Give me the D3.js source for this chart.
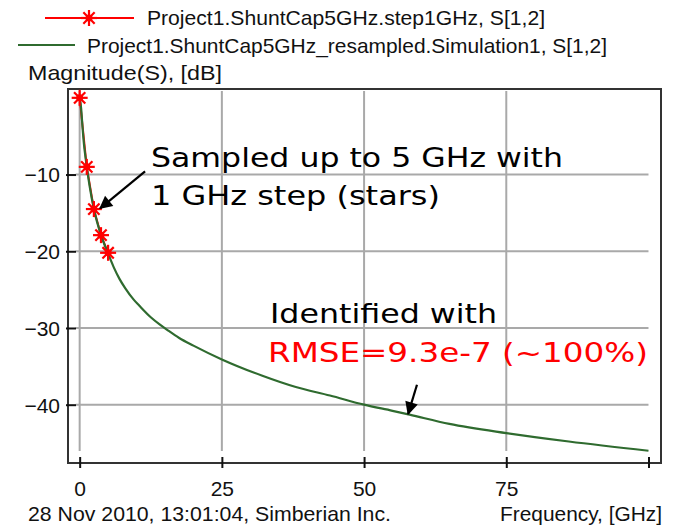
<!DOCTYPE html>
<html>
<head>
<meta charset="utf-8">
<script src="https://cdn.jsdelivr.net/npm/d3@7"></script>
<style>
  body { margin: 0; background: #fff; }
  svg { display: block; }
  .small { font-family: "Liberation Sans Narrow", "Liberation Sans", Arial, sans-serif; font-size: 21px; fill: #111; }
  .note { font-family: "DejaVu Sans", Verdana, sans-serif; font-size: 27px; }
</style>
</head>
<body>
<div id="chart"></div>
<script>
// sampled series (stars)
var stepFreq = [0, 1.25, 2.5, 3.75, 5];
var stepMag  = [0, -9.0, -14.5, -17.9, -20.2];

// resampled / identified series (green line)
var simFreq = [0, 0.25, 0.5, 0.75, 1, 1.25, 1.75, 2.5, 3.75, 5, 6, 7, 8, 9.5, 10.5, 12.5, 14, 15.5, 17.5, 20, 25, 32, 38, 44, 50, 55, 58, 65, 75, 86, 100];
var simMag  = [0, -1.3, -3.8, -6.0, -7.6, -9.0, -11.5, -14.5, -17.9, -20.3, -22.1, -23.6, -24.8, -26.3, -27.1, -28.6, -29.5, -30.3, -31.3, -32.3, -34.1, -36.2, -37.7, -38.8, -40.0, -40.8, -41.3, -42.5, -43.7, -44.8, -46.0];

var xTicks = [0, 25, 50, 75, 100];
var xTickLabels = ["0", "25", "50", "75", ""];
var yTicks = [-10, -20, -30, -40];

var legendNames = ["Project1.ShuntCap5GHz.step1GHz, S[1,2]",
                   "Project1.ShuntCap5GHz_resampled.Simulation1, S[1,2]"];

var width = 679, height = 525;
var box = {left: 68, right: 661, top: 89, bottom: 463};

var svg = d3.select("#chart")
  .append("svg")
    .attr("width", width)
    .attr("height", height);

var x = d3.scaleLinear()
  .domain([-2.05, 102.2])
  .range([box.left, box.right]);

var y = d3.scaleLinear()
  .domain([-47.6, 1.15])
  .range([box.bottom, box.top]);

var red = "#ff0000", green = "#2f6b2f", grid = "#a9a9a9";

// grid lines
svg.append("g")
  .selectAll("line")
  .data(xTicks.slice(0, 4))
  .enter().append("line")
    .attr("x1", function(d) { return x(d); })
    .attr("x2", function(d) { return x(d); })
    .attr("y1", box.top + 2)
    .attr("y2", box.bottom - 12)
    .attr("stroke", grid)
    .attr("stroke-width", 2);

svg.append("g")
  .selectAll("line")
  .data(yTicks)
  .enter().append("line")
    .attr("x1", x(0) - 4)
    .attr("x2", x(100))
    .attr("y1", function(d) { return y(d); })
    .attr("y2", function(d) { return y(d); })
    .attr("stroke", grid)
    .attr("stroke-width", 2);

// plot frame
svg.append("rect")
  .attr("x", box.left)
  .attr("y", box.top)
  .attr("width", box.right - box.left)
  .attr("height", box.bottom - box.top)
  .attr("fill", "none")
  .attr("stroke", "#333")
  .attr("stroke-width", 2);

// X axis (ticks cross the frame line)
var xAxis = svg.append("g")
  .attr("transform", "translate(0," + (box.bottom + 5) + ")")
  .call(d3.axisBottom(x).tickValues(xTicks).tickSize(11).tickSizeOuter(0)
        .tickFormat(function(d, i) { return xTickLabels[i]; }));
xAxis.select(".domain").remove();
xAxis.selectAll(".tick line").attr("y1", -11).attr("y2", 0).attr("stroke", "#111").attr("stroke-width", 2);
xAxis.selectAll(".tick text").attr("class", "small").attr("y", 13).attr("dy", "0.71em");

// Y axis
var yAxis = svg.append("g")
  .attr("transform", "translate(" + (box.left + 8) + ",0)")
  .call(d3.axisLeft(y).tickValues(yTicks).tickSize(10).tickSizeOuter(0));
yAxis.select(".domain").remove();
yAxis.selectAll(".tick line").attr("stroke", "#111").attr("stroke-width", 2);
yAxis.selectAll(".tick text").attr("class", "small").attr("x", -16).attr("dy", "0.35em");

// series
var simData = simFreq.map(function(f, i) { return {f: f, v: simMag[i]}; });
var stepData = stepFreq.map(function(f, i) { return {f: f, v: stepMag[i]}; });

var line = d3.line()
  .x(function(d) { return x(d.f); })
  .y(function(d) { return y(d.v); });

svg.append("path")
  .datum(stepData)
  .attr("d", line)
  .attr("fill", "none")
  .attr("stroke", red)
  .attr("stroke-width", 2);

svg.append("path")
  .datum(simData)
  .attr("d", line.curve(d3.curveMonotoneX))
  .attr("fill", "none")
  .attr("stroke", green)
  .attr("stroke-width", 2.2);

// asterisk marker
function star(g, cx, cy) {
  var s = g.append("g").attr("transform", "translate(" + cx + "," + cy + ")");
  [0, 45, 90, 135].forEach(function(a) {
    s.append("line")
      .attr("x1", -8).attr("x2", 8)
      .attr("transform", "rotate(" + a + ")")
      .attr("stroke", red)
      .attr("stroke-width", 2.2);
  });
  s.append("circle").attr("r", 3.5).attr("fill", red);
}

var stars = svg.append("g");
stepData.forEach(function(d) { star(stars, x(d.f), y(d.v)); });

// legend
svg.append("line").attr("x1", 45).attr("x2", 134).attr("y1", 18).attr("y2", 18)
  .attr("stroke", red).attr("stroke-width", 2);
star(svg, 89, 18);
svg.append("text").attr("class", "small").attr("x", 147).attr("y", 25)
  .attr("textLength", 398).attr("lengthAdjust", "spacingAndGlyphs")
  .text(legendNames[0]);

svg.append("line").attr("x1", 18).attr("x2", 75).attr("y1", 45).attr("y2", 45)
  .attr("stroke", green).attr("stroke-width", 2);
svg.append("text").attr("class", "small").attr("x", 87).attr("y", 53)
  .attr("textLength", 520).attr("lengthAdjust", "spacingAndGlyphs")
  .text(legendNames[1]);

// axis titles
svg.append("text").attr("class", "small").attr("x", 28).attr("y", 80)
  .attr("textLength", 194).attr("lengthAdjust", "spacingAndGlyphs")
  .text("Magnitude(S), [dB]");

svg.append("text").attr("class", "small").attr("x", 28).attr("y", 521)
  .attr("textLength", 363).attr("lengthAdjust", "spacingAndGlyphs")
  .text("28 Nov 2010, 13:01:04, Simberian Inc.");

svg.append("text").attr("class", "small").attr("x", 500).attr("y", 521)
  .attr("textLength", 162).attr("lengthAdjust", "spacingAndGlyphs")
  .text("Frequency, [GHz]");

// annotations
svg.append("defs").append("marker")
  .attr("id", "arrow")
  .attr("viewBox", "0 0 10 10")
  .attr("refX", 9).attr("refY", 5)
  .attr("markerWidth", 16).attr("markerHeight", 13)
  .attr("markerUnits", "userSpaceOnUse")
  .attr("orient", "auto")
  .append("path")
    .attr("d", "M0,0 L10,5 L0,10 z")
    .attr("fill", "#000");

svg.append("line")
  .attr("x1", x(11.5)).attr("y1", y(-9.6))
  .attr("x2", x(3.6)).attr("y2", y(-14.4))
  .attr("stroke", "#000").attr("stroke-width", 2.2)
  .attr("marker-end", "url(#arrow)");

svg.append("line")
  .attr("x1", x(59.3)).attr("y1", y(-37.4))
  .attr("x2", x(57.75)).attr("y2", y(-41.2))
  .attr("stroke", "#000").attr("stroke-width", 2.2)
  .attr("marker-end", "url(#arrow)");

svg.append("text").attr("class", "note").attr("x", 151).attr("y", 167)
  .attr("textLength", 412).attr("lengthAdjust", "spacingAndGlyphs")
  .attr("fill", "#000").text("Sampled up to 5 GHz with");
svg.append("text").attr("class", "note").attr("x", 151).attr("y", 205)
  .attr("textLength", 289).attr("lengthAdjust", "spacingAndGlyphs")
  .attr("fill", "#000").text("1 GHz step (stars)");
svg.append("text").attr("class", "note").attr("x", 270).attr("y", 323)
  .attr("textLength", 227).attr("lengthAdjust", "spacingAndGlyphs")
  .attr("fill", "#000").text("Identified with");
svg.append("text").attr("class", "note").attr("x", 268).attr("y", 362)
  .attr("textLength", 380).attr("lengthAdjust", "spacingAndGlyphs")
  .attr("fill", red).text("RMSE=9.3e-7 (~100%)");
</script>
</body>
</html>
